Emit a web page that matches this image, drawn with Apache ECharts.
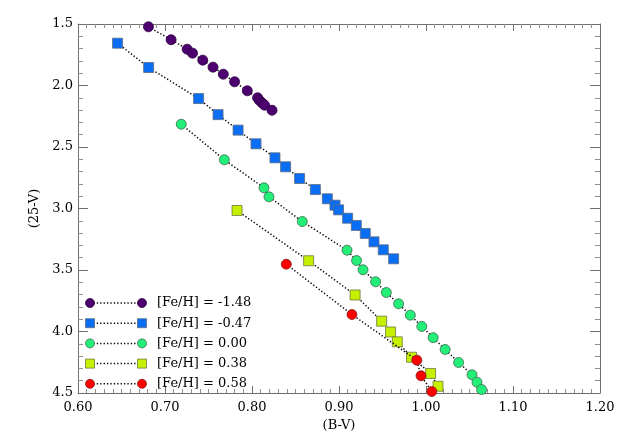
<!DOCTYPE html>
<html>
<head>
<meta charset="utf-8">
<script src="https://cdn.jsdelivr.net/npm/echarts@6/dist/echarts.min.js"></script>
<style>html,body{margin:0;padding:0;background:#fff}#c{width:623px;height:445px}</style>
</head>
<body>
<div id="c"></div>
<script>
// ---- data ----
var labels = ['[Fe/H] = -1.48', '[Fe/H] = -0.47', '[Fe/H] = 0.00', '[Fe/H] = 0.38', '[Fe/H] = 0.58'];
var bv_m148 = [0.681, 0.707, 0.7255, 0.7316, 0.7434, 0.7552, 0.767, 0.780, 0.7946, 0.8064, 0.8084, 0.8115, 0.8145, 0.823];
var v_m148  = [1.523, 1.628, 1.705, 1.737, 1.794, 1.851, 1.908, 1.970, 2.043, 2.100, 2.120, 2.141, 2.160, 2.201];
var bv_m047 = [0.6455, 0.6812, 0.7386, 0.761, 0.784, 0.8046, 0.8264, 0.8386, 0.8547, 0.8728, 0.8866, 0.8954, 0.8995, 0.9099, 0.9199, 0.9302, 0.9402, 0.9509, 0.9628];
var v_m047  = [1.656, 1.854, 2.106, 2.237, 2.363, 2.474, 2.588, 2.661, 2.756, 2.846, 2.921, 2.973, 3.011, 3.079, 3.138, 3.203, 3.271, 3.336, 3.409];
var bv_000 = [0.7187, 0.7682, 0.8138, 0.8195, 0.8578, 0.9092, 0.9202, 0.9276, 0.9421, 0.9544, 0.9685, 0.9820, 0.9952, 1.0082, 1.0220, 1.0375, 1.0529, 1.0586, 1.0639];
var v_000  = [2.315, 2.604, 2.832, 2.905, 3.106, 3.339, 3.423, 3.498, 3.596, 3.683, 3.775, 3.867, 3.959, 4.050, 4.146, 4.252, 4.352, 4.412, 4.472];
var bv_038 = [0.7828, 0.8651, 0.9185, 0.9490, 0.9593, 0.9670, 0.9834, 1.0053, 1.0138];
var v_038  = [3.016, 3.425, 3.703, 3.916, 4.004, 4.084, 4.209, 4.341, 4.445];
var bv_058 = [0.8394, 0.9149, 0.9894, 0.9943, 1.0067];
var v_058  = [3.453, 3.862, 4.233, 4.360, 4.488];
var xTicks = [0.60, 0.70, 0.80, 0.90, 1.00, 1.10, 1.20];
var yTicks = [1.5, 2.0, 2.5, 3.0, 3.5, 4.0, 4.5];

// ---- styles ----
var colors = ['#4f0070', '#0a6ef5', '#22ee78', '#c6f000', '#ff0000'];
var borders = ['#2a0040', '#5a6a80', '#3c6a50', '#6a7a40', '#802020'];
var symbols = ['circle', 'rect', 'circle', 'rect', 'circle'];
var sizes = [10, 10, 10, 10, 10];
var FONT = 'DejaVu Serif';
var dotted = [1.3, 2.1];

function pairs(a, b) { return a.map(function (v, i) { return [v, b[i]]; }); }
var sets = [pairs(bv_m148, v_m148), pairs(bv_m047, v_m047), pairs(bv_000, v_000), pairs(bv_038, v_038), pairs(bv_058, v_058)];

var series = sets.map(function (d, i) {
  return {
    type: 'line', data: d, xAxisIndex: 0, yAxisIndex: 0,
    symbol: symbols[i], symbolSize: sizes[i], showAllSymbol: true, clip: false,
    lineStyle: { color: '#000', width: 1.5, type: dotted },
    itemStyle: { color: colors[i], borderColor: borders[i], borderWidth: 0.8 },
    animation: false, z: 3 + i
  };
});

var axisCommon = {
  axisLine: { lineStyle: { color: '#707070', width: 1 } },
  splitLine: { show: false }
};

function xAx(pos, showLab) {
  return Object.assign({
    type: 'value', position: pos, min: 0.6, max: 1.2, interval: 0.1,
    axisTick: { inside: true, length: 7, lineStyle: { color: '#707070' } },
    minorTick: { show: true, splitNumber: 10, length: 4, lineStyle: { color: '#909090' } },
    axisLabel: { show: showLab, color: '#000', fontFamily: FONT, fontSize: 13, margin: 8,
      formatter: function (v) { return v.toFixed(2); } },
    name: showLab ? '(B-V)' : '', nameLocation: 'middle', nameGap: 25,
    nameTextStyle: { color: '#000', fontFamily: FONT, fontSize: 13 }
  }, axisCommon);
}
function yAx(pos, showLab) {
  return Object.assign({
    type: 'value', position: pos, min: 1.5, max: 4.5, interval: 0.5, inverse: true,
    axisTick: { inside: true, length: 10, lineStyle: { color: '#707070' } },
    minorTick: { show: true, splitNumber: 5, length: 5, lineStyle: { color: '#909090' } },
    axisLabel: { show: showLab, color: '#000', fontFamily: FONT, fontSize: 13, margin: 5,
      formatter: function (v) { return v.toFixed(1); } },
    name: showLab ? '(25-V)' : '', nameLocation: 'middle', nameGap: 34,
    nameTextStyle: { color: '#000', fontFamily: FONT, fontSize: 13 }
  }, axisCommon);
}

// ---- legend (drawn) ----
var graphic = [];
labels.forEach(function (t, i) {
  var y = 303 + 20.2 * i;
  var x1 = 90, x2 = 142;
  graphic.push({ type: 'line', shape: { x1: x1, y1: y, x2: x2, y2: y },
    style: { stroke: '#000', lineWidth: 1.5, lineDash: dotted }, z: 10 });
  [x1, x2].forEach(function (x) {
    if (symbols[i] === 'circle') {
      graphic.push({ type: 'circle', shape: { cx: x, cy: y, r: 4.5 },
        style: { fill: colors[i], stroke: borders[i], lineWidth: 0.8 }, z: 11 });
    } else {
      graphic.push({ type: 'rect', shape: { x: x - 4.5, y: y - 4.5, width: 9, height: 9 },
        style: { fill: colors[i], stroke: borders[i], lineWidth: 0.8 }, z: 11 });
    }
  });
  graphic.push({ type: 'text', x: 157, y: y,
    style: { text: t, fill: '#000', font: '13px "' + FONT + '"', verticalAlign: 'middle', textAlign: 'left' }, z: 11 });
});

var chart = echarts.init(document.getElementById('c'), null, { renderer: 'canvas' });
chart.setOption({
  animation: false,
  backgroundColor: '#fff',
  grid: { left: 78, right: 23, top: 24, bottom: 52 },
  xAxis: [xAx('bottom', true), xAx('top', false)],
  yAxis: [yAx('left', true), yAx('right', false)],
  series: series,
  graphic: graphic
});
</script>
</body>
</html>
